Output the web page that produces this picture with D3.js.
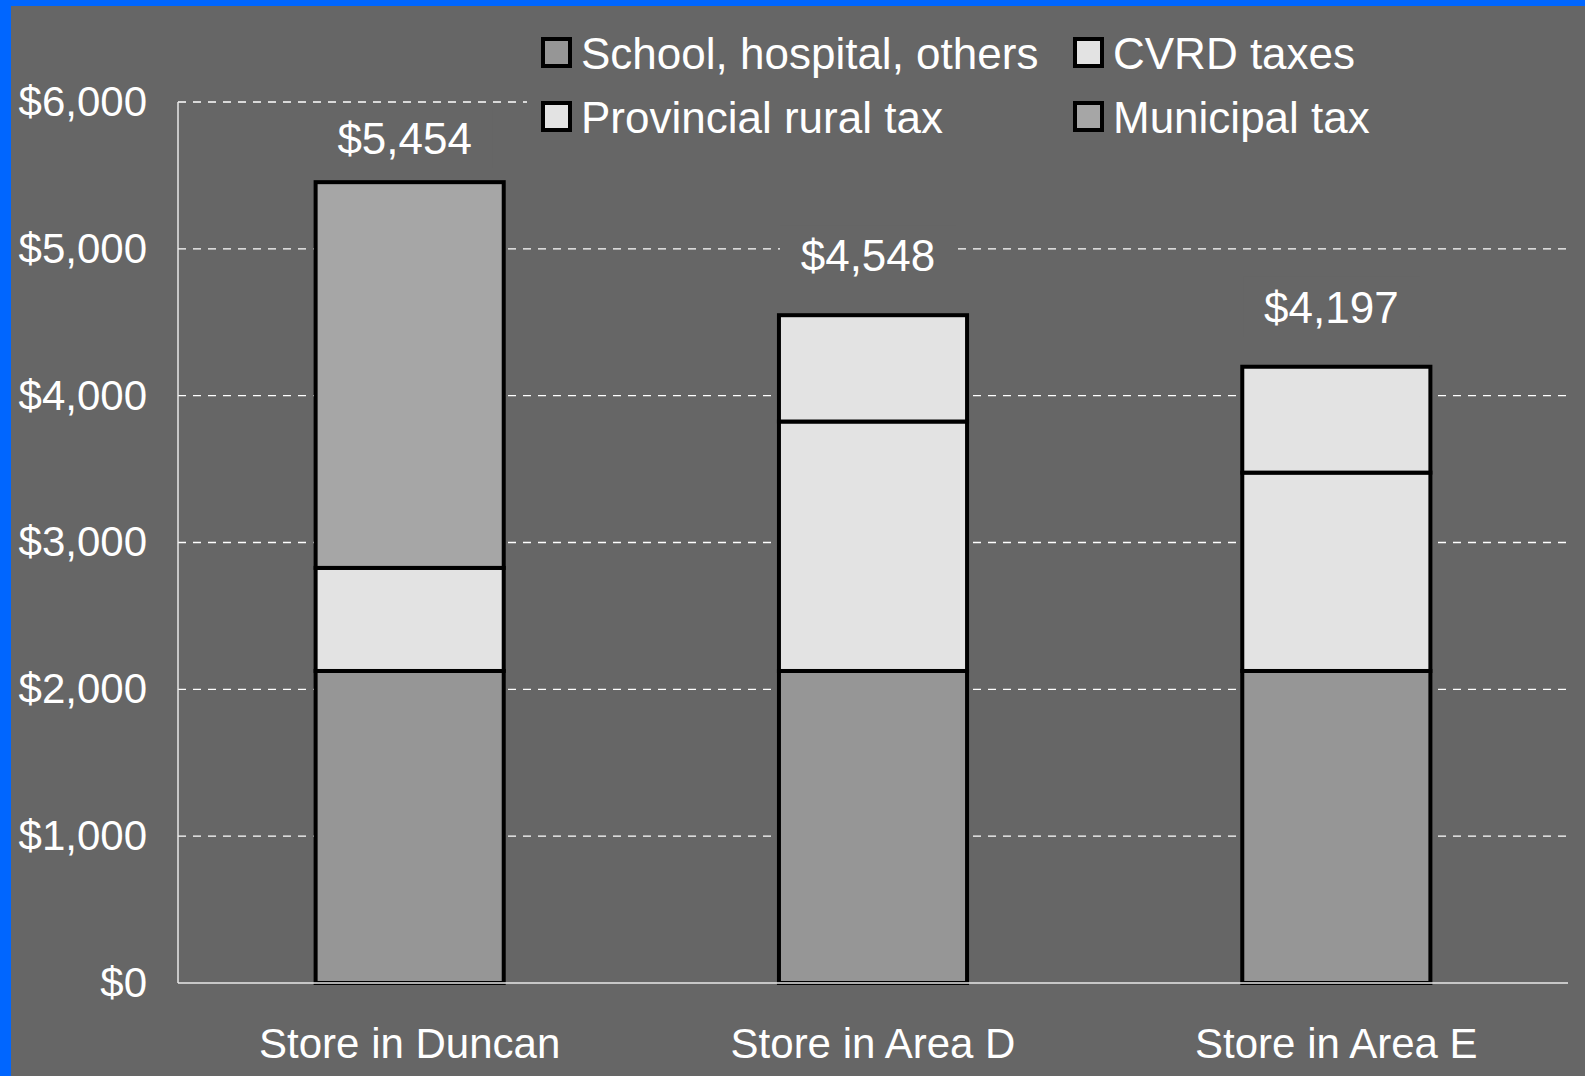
<!DOCTYPE html>
<html>
<head>
<meta charset="utf-8">
<script src="https://cdn.jsdelivr.net/npm/d3@7"></script>
<style>
  html, body { margin: 0; padding: 0; background: #0066ff; }
  svg { display: block; }
  text { font-family: "Liberation Sans", Arial, sans-serif; fill: #ffffff; }
</style>
</head>
<body>
<svg id="chart" width="1585" height="1076"></svg>
<script>
// ---- data ----
const categories = ["Store in Duncan", "Store in Area D", "Store in Area E"];
const seriesNames = ["School, hospital, others", "Provincial rural tax", "CVRD taxes", "Municipal tax"];
const schoolHospital = [2125, 2125, 2125];
const provincialRural = [0, 1699, 1351];
const cvrdTaxes = [702, 724, 721];
const municipalTax = [2627, 0, 0];
const totalLabels = ["$5,454", "$4,548", "$4,197"];
const yTickValues = [0, 1000, 2000, 3000, 4000, 5000, 6000];
const legendOrder = ["School, hospital, others", "CVRD taxes", "Provincial rural tax", "Municipal tax"];

const seriesValues = [schoolHospital, provincialRural, cvrdTaxes, municipalTax];
const colors = {
  "School, hospital, others": "#969696",
  "Provincial rural tax": "#e3e3e3",
  "CVRD taxes": "#e3e3e3",
  "Municipal tax": "#a6a6a6"
};

const rows = categories.map((c, i) => {
  const o = { category: c };
  seriesNames.forEach((s, k) => o[s] = seriesValues[k][i]);
  return o;
});

const svg = d3.select("#chart");
const W = 1585, H = 1076;

// grey panel inside blue frame
svg.append("rect").attr("x", 11).attr("y", 6).attr("width", W - 11).attr("height", H - 6).attr("fill", "#666666");

const plot = { left: 178, right: 1568, top: 102, bottom: 983 };

const x = d3.scaleBand().domain(categories).range([plot.left, plot.right])
  .paddingInner(0.594).paddingOuter(0.297);
const y = d3.scaleLinear().domain([0, 6000]).range([plot.bottom, plot.top]);

// gridlines
svg.append("g").selectAll("line").data(yTickValues.filter(v => v > 0)).join("line")
  .attr("x1", plot.left).attr("x2", plot.right)
  .attr("y1", d => y(d)).attr("y2", d => y(d))
  .attr("stroke", "#ffffff").attr("stroke-width", 1.3).attr("stroke-dasharray", "8,7");

// y axis
const yAxis = d3.axisLeft(y).tickValues(yTickValues).tickSize(0).tickPadding(31)
  .tickFormat(d => "$" + d3.format(",")(d));
const ya = svg.append("g").attr("transform", `translate(${plot.left},0)`).call(yAxis);
ya.select(".domain").remove();
ya.selectAll("text").attr("font-size", 42).attr("fill", "#ffffff")
  .style("font-family", "'Liberation Sans', Arial, sans-serif");
svg.append("line").attr("x1", plot.left).attr("x2", plot.left).attr("y1", plot.top).attr("y2", plot.bottom)
  .attr("stroke", "#e8e8e8").attr("stroke-width", 1.5);

// x axis
const xAxis = d3.axisBottom(x).tickSize(0).tickPadding(45);
const xa = svg.append("g").attr("transform", `translate(0,${plot.bottom})`).call(xAxis);
xa.select(".domain").remove();
xa.selectAll("text").attr("font-size", 42).attr("fill", "#ffffff")
  .style("font-family", "'Liberation Sans', Arial, sans-serif");

// stacked bars
const stack = d3.stack().keys(seriesNames);
const stacked = stack(rows);
const barsG = svg.append("g");
stacked.forEach(layer => {
  barsG.append("g").selectAll("rect")
    .data(layer.filter(d => d[1] - d[0] > 0))
    .join("rect")
    .attr("x", d => x(d.data.category))
    .attr("width", x.bandwidth())
    .attr("y", d => y(d[1]))
    .attr("height", d => y(d[0]) - y(d[1]))
    .attr("fill", colors[layer.key])
    .attr("stroke", "#000000").attr("stroke-width", 4);
});

svg.append("line").attr("x1", plot.left).attr("x2", plot.right).attr("y1", plot.bottom).attr("y2", plot.bottom)
  .attr("stroke", "#e8e8e8").attr("stroke-width", 1.5);

// total labels
const totals = rows.map(r => d3.sum(seriesNames, s => r[s]));
const lblG = svg.append("g");
categories.forEach((c, i) => {
  const cx = x(c) + x.bandwidth() / 2 - 5;
  const by = Math.max(y(totals[i]) - 44, y(6000) + 52);
  const g = lblG.append("g");
  g.append("rect").attr("x", cx - 88).attr("y", by - 46).attr("width", 176).attr("height", 60)
    .attr("fill", "#666666");
  g.append("text").attr("x", cx).attr("y", by).attr("text-anchor", "middle")
    .attr("font-size", 44).text(totalLabels[i]);
});

// legend
const legend = svg.append("g");
legend.append("rect").attr("x", 527).attr("y", 26).attr("width", 1050).attr("height", 118).attr("fill", "#666666");
const colX = [543, 1075];
const rowY = [39, 103];
legendOrder.forEach((name, i) => {
  const col = i % 2, row = Math.floor(i / 2);
  const gx = colX[col], gy = rowY[row];
  legend.append("rect").attr("x", gx).attr("y", gy).attr("width", 27).attr("height", 27)
    .attr("fill", colors[name]).attr("stroke", "#000000").attr("stroke-width", 4);
  legend.append("text").attr("x", gx + 38).attr("y", gy + 30)
    .attr("font-size", 44).text(name);
});
</script>
</body>
</html>
